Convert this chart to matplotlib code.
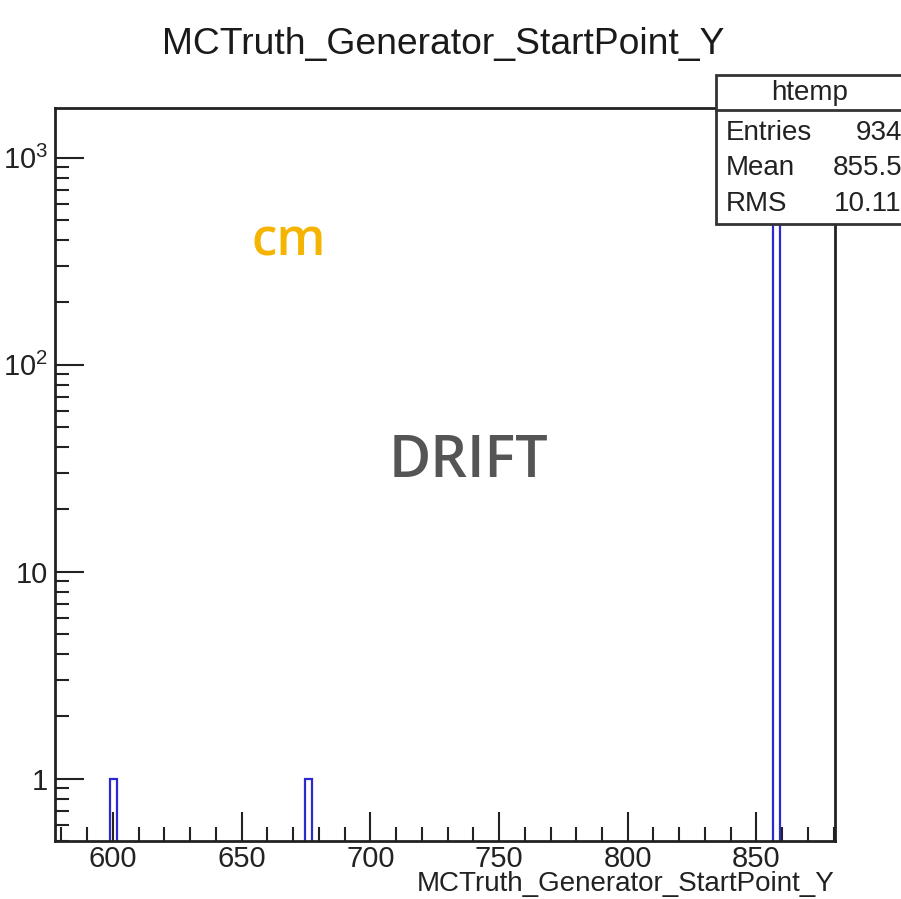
import numpy as np
import matplotlib
matplotlib.use('Agg')
import matplotlib.pyplot as plt
from matplotlib.patches import Rectangle
from matplotlib.ticker import FixedLocator, FixedFormatter, MultipleLocator, LogLocator, NullFormatter

plt.rcParams['font.family'] = ['Liberation Sans', 'DejaVu Sans']
plt.rcParams['mathtext.fontset'] = 'custom'
plt.rcParams['mathtext.rm'] = 'Liberation Sans'

# histogram (100 bins, ROOT default range)
x_lo, x_hi, n_bins = 577.5, 880.5, 100
bin_centers = [600.2, 676.0, 857.0]
bin_counts = [1, 1, 932]
stat_names = ['Entries', 'Mean', 'RMS']
stat_values = ['934', '855.5', '10.11']
y_ticks = [1, 10, 100, 1000]
y_labels = ['1', '10', r'$10^{2}$', r'$10^{3}$']

edges = np.linspace(x_lo, x_hi, n_bins + 1)
counts, _ = np.histogram(bin_centers, bins=edges, weights=bin_counts)

fig = plt.figure(figsize=(9.01, 8.99), dpi=100)
ax = fig.add_axes([0.061, 0.0645, 0.8657, 0.8154])

ax.stairs(counts, edges, baseline=0.5, color='#2a2ad0', lw=1.6)
ax.set_yscale('log')
ax.set_xlim(x_lo, x_hi)
ax.set_ylim(0.5, 1740)

ax.xaxis.set_major_locator(MultipleLocator(50))
ax.xaxis.set_minor_locator(MultipleLocator(10))
ax.yaxis.set_major_locator(FixedLocator(y_ticks))
ax.yaxis.set_major_formatter(FixedFormatter(y_labels))
ax.yaxis.set_minor_locator(LogLocator(base=10, subs=np.arange(2, 10)))
ax.yaxis.set_minor_formatter(NullFormatter())

ax.tick_params(axis='both', which='major', direction='in', length=21, width=1.5,
               labelsize=21, top=False, right=False, pad=5, colors='#222222')
ax.tick_params(axis='x', which='major', pad=3)
ax.tick_params(axis='both', which='minor', direction='in', length=10, width=1.5,
               top=False, right=False, colors='#222222')
for sp in ax.spines.values():
    sp.set_linewidth(2)
    sp.set_color('#222222')

fig.text(0.4917, 0.95, 'MCTruth_Generator_StartPoint_Y', ha='center', va='center',
         fontsize=26.8, color='#1a1a1a')
fig.text(0.9267, 0.002, 'MCTruth_Generator_StartPoint_Y', ha='right', va='bottom',
         fontsize=20, color='#222222')

# stats box
box = Rectangle((0.7947, 0.7508), 0.25, 0.1658, transform=fig.transFigure,
                facecolor='white', edgecolor='#333333', lw=2, zorder=5)
fig.patches.append(box)
fig.add_artist(plt.Line2D([0.7947, 1.0], [0.8776, 0.8776], transform=fig.transFigure,
                          color='#333333', lw=2, zorder=6))
fig.text(0.899, 0.8966, 'htemp', ha='center', va='center', fontsize=20, color='#222222', zorder=7)
row_y = [1 - 133 / 899, 1 - 168 / 899, 1 - 204 / 899]
for name, val, yy in zip(stat_names, stat_values, row_y):
    fig.text(0.806, yy, name, ha='left', va='center', fontsize=20, color='#222222', zorder=7)
    fig.text(1.001, yy, val, ha='right', va='center', fontsize=20, color='#222222', zorder=7)

fig.text(289 / 901, 1 - 243 / 899, 'cm', ha='center', va='center', fontsize=37,
         fontweight='semibold', color='#f5b400', family='Open Sans')
fig.text(469 / 901, 1 - 462 / 899, 'DRIFT', ha='center', va='center', fontsize=41.5,
         fontweight='semibold', color='#555555', family='Open Sans')

fig.savefig('out.png', dpi=100)
